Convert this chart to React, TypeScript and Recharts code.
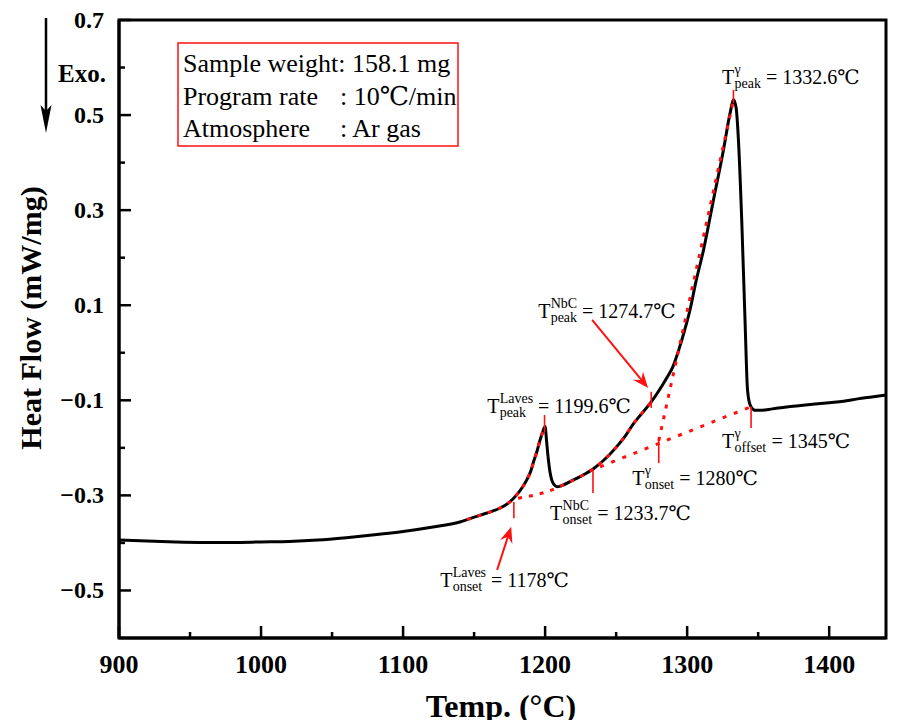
import React from 'react';
import { LineChart, Line, XAxis, YAxis, ReferenceLine, ReferenceDot, ReferenceArea } from 'recharts';

// ---- DSC curve ----
const temps = [900, 920, 940, 960, 980, 1000, 1020, 1040, 1060, 1080, 1100, 1120, 1140, 1147, 1155, 1162, 1168, 1175, 1180, 1184, 1187, 1190, 1192, 1194.5, 1196.5, 1198.5, 1200, 1201, 1202.3, 1203.5, 1204.7, 1206.5, 1208.5, 1212, 1217.6, 1225, 1234, 1242, 1250, 1256, 1262, 1268, 1274.6, 1282, 1286, 1290, 1294, 1298, 1302, 1306, 1311.5, 1318.5, 1325.6, 1330.3, 1332.6, 1334.5, 1336.1, 1338.5, 1340.8, 1342.5, 1344.4, 1347.9, 1352, 1360, 1370, 1380, 1390, 1400, 1410, 1420, 1430, 1440];
const heatFlow = [-0.394, -0.396, -0.398, -0.399, -0.399, -0.398, -0.397, -0.394, -0.389, -0.383, -0.376, -0.367, -0.356, -0.349, -0.341, -0.334, -0.327, -0.314, -0.299, -0.283, -0.268, -0.248, -0.228, -0.205, -0.183, -0.165, -0.155, -0.185, -0.225, -0.252, -0.268, -0.278, -0.282, -0.279, -0.271, -0.26, -0.244, -0.224, -0.199, -0.177, -0.15, -0.128, -0.104, -0.071, -0.051, -0.029, 0.005, 0.045, 0.09, 0.147, 0.216, 0.321, 0.427, 0.505, 0.532, 0.515, 0.448, 0.273, 0.063, -0.078, -0.11, -0.121, -0.121, -0.118, -0.114, -0.111, -0.108, -0.105, -0.102, -0.097, -0.093, -0.089];

// ---- red dotted construction lines ----
const lavesEdgeT = [1145, 1155, 1162, 1168, 1175, 1180, 1184, 1187, 1190, 1192, 1194.5, 1196.5, 1198.5];
const lavesEdgeV = [-0.351, -0.341, -0.334, -0.327, -0.314, -0.299, -0.283, -0.268, -0.248, -0.228, -0.205, -0.183, -0.165];
const nbcLineT = [1181, 1208.5, 1212, 1217.6, 1225, 1234, 1242, 1250, 1256, 1262, 1268, 1274.6];
const nbcLineV = [-0.306, -0.284, -0.279, -0.271, -0.26, -0.244, -0.224, -0.199, -0.177, -0.15, -0.128, -0.104];
const gammaBaseT = [1238.7, 1344.4];
const gammaBaseV = [-0.24, -0.114];
const gammaTangentT = [1280, 1332.6];
const gammaTangentV = [-0.185, 0.532];

// ---- characteristic temperature markers ----
const markerT = [1178, 1199.6, 1233.7, 1274.7, 1280, 1332.6, 1345];
const markerLow = [-0.348, -0.167, -0.295, -0.116, -0.232, 0.525, -0.158];
const markerHigh = [-0.314, -0.131, -0.247, -0.082, -0.179, 0.553, -0.113];

// ---- labels ----
const labelSup = ['γ', 'NbC', 'Laves', 'NbC', 'γ', 'γ', 'Laves'];
const labelSub = ['peak', 'peak', 'peak', 'onset', 'onset', 'offset', 'onset'];
const labelValue = ['1332.6℃', '1274.7℃', '1199.6℃', '1233.7℃', '1280℃', '1345℃', '1178℃'];
const labelAtT = [1324.6, 1195.1, 1159.2, 1203.5, 1261.3, 1324.6, 1126.1];
const labelAtV = [0.566, 0.073, -0.127, -0.352, -0.278, -0.2, -0.493];

// ---- arrows (from label to point) ----
const arrowFromT = [1233.1, 1166.2];
const arrowFromV = [0.069, -0.457];
const arrowToT = [1272.5, 1176.1];
const arrowToV = [-0.074, -0.366];

// ---- axes ----
const xTicks = [900, 950, 1000, 1050, 1100, 1150, 1200, 1250, 1300, 1350, 1400];
const yTicks = [-0.5, -0.4, -0.3, -0.2, -0.1, 0, 0.1, 0.2, 0.3, 0.4, 0.5, 0.6, 0.7];

const legendLines = [
  ['Sample weight: 158.1 mg', ''],
  ['Program rate', ': 10℃/min'],
  ['Atmosphere', ': Ar gas'],
];

const zip = (t: number[], v: number[]) => t.map((T, i) => ({ T, v: v[i] }));
const curve = zip(temps, heatFlow);

const RED = '#ff1010';
const FONT = "'Liberation Serif', 'Times New Roman', 'DejaVu Serif', serif";

const CW: Record<string, number> = { p: 500, e: 444, a: 444, k: 500, o: 500, n: 500, s: 389, t: 278, f: 333, L: 611, v: 500, N: 722, b: 500, C: 667, 'γ': 440 };
const textW = (s: string, size: number) => s.split('').reduce((w, c) => w + (CW[c] ?? 500), 0) * size / 1000;

const XTick = (props: any) => {
  const { x, y, payload } = props;
  const major = payload.value % 100 === 0;
  return (
    <g>
      <line x1={x} y1={y} x2={x} y2={y - (major ? 12 : 6)} stroke="#000" strokeWidth={2.5} />
      {major && (
        <text x={x} y={y + 35} textAnchor="middle" fontFamily={FONT} fontWeight="bold" fontSize={26} fill="#000">
          {payload.value}
        </text>
      )}
    </g>
  );
};

const YTick = (props: any) => {
  const { x, y, payload } = props;
  const n = Math.round(payload.value * 10);
  const major = Math.abs(n) % 2 === 1;
  const label = (n < 0 ? '\u2212' : '') + Math.abs(payload.value).toFixed(1);
  return (
    <g>
      <line x1={x} y1={y} x2={x + (major ? 12 : 6)} y2={y} stroke="#000" strokeWidth={2.5} />
      {major && (
        <text x={x - 15} y={y + 8} textAnchor="end" fontFamily={FONT} fontWeight="bold" fontSize={24} fill="#000">
          {label}
        </text>
      )}
    </g>
  );
};

const ArrowShape = (props: any) => {
  const { x1, y1, x2, y2 } = props;
  const ang = Math.atan2(y2 - y1, x2 - x1);
  const c = Math.cos(ang), s = Math.sin(ang);
  const L = 16, W = 6.5;
  const bx = x2 - L * c, by = y2 - L * s;
  const nx = x2 - L * 0.65 * c, ny = y2 - L * 0.65 * s;
  const pts = `${x2},${y2} ${bx - W * s},${by + W * c} ${nx},${ny} ${bx + W * s},${by - W * c}`;
  return (
    <g>
      <line x1={x1} y1={y1} x2={nx} y2={ny} stroke={RED} strokeWidth={2} />
      <polygon points={pts} fill={RED} />
    </g>
  );
};

const makeLabel = (i: number) => (props: any) => {
  const { cx, cy } = props;
  const tW = 12.5;
  const sw = Math.max(textW(labelSup[i], 14), textW(labelSub[i], 14));
  return (
    <g fontFamily={FONT} fill="#000">
      <text x={cx} y={cy} fontSize={20}>T</text>
      <text x={cx + tW} y={cy - 10} fontSize={14}>{labelSup[i]}</text>
      <text x={cx + tW} y={cy + 4} fontSize={14}>{labelSub[i]}</text>
      <text x={cx + tW + sw} y={cy} fontSize={20} style={{ whiteSpace: 'pre' }}>{' = ' + labelValue[i]}</text>
    </g>
  );
};

export default function App() {
  const W = 885;
  const H = 712;
  return (
    <div style={{ position: 'relative', width: W, height: H, background: '#fff' }}>
      <LineChart width={W} height={H} margin={{ top: 12, right: 7, bottom: 0, left: 0 }}>
        <XAxis
          type="number"
          dataKey="T"
          domain={[900, 1440]}
          ticks={xTicks}
          interval={0}
          allowDataOverflow
          height={82}
          tickSize={0}
          tickMargin={0}
          tickLine={false}
          axisLine={{ stroke: '#000', strokeWidth: 3 }}
          tick={<XTick />}
        />
        <YAxis
          type="number"
          dataKey="v"
          domain={[-0.6, 0.7]}
          ticks={yTicks}
          interval={0}
          allowDataOverflow
          width={111}
          tickSize={0}
          tickMargin={0}
          tickLine={false}
          axisLine={{ stroke: '#000', strokeWidth: 3 }}
          tick={<YTick />}
        />
        <ReferenceArea x1={900} x2={1440} y1={-0.6} y2={0.7} fill="none" fillOpacity={0} stroke="#000" strokeWidth={3} ifOverflow="visible" />
        <Line data={curve} dataKey="v" type="monotone" stroke="#000" strokeWidth={3} dot={false} isAnimationActive={false} />
        <Line data={zip(lavesEdgeT, lavesEdgeV)} dataKey="v" type="monotone" stroke={RED} strokeWidth={3} strokeDasharray="4 7" dot={false} isAnimationActive={false} />
        <Line data={zip(nbcLineT, nbcLineV)} dataKey="v" type="monotone" stroke={RED} strokeWidth={3} strokeDasharray="4 7" dot={false} isAnimationActive={false} />
        <Line data={zip(gammaBaseT, gammaBaseV)} dataKey="v" type="linear" stroke={RED} strokeWidth={3} strokeDasharray="4 8" dot={false} isAnimationActive={false} />
        <Line data={zip(gammaTangentT, gammaTangentV)} dataKey="v" type="linear" stroke={RED} strokeWidth={3} strokeDasharray="4 7" dot={false} isAnimationActive={false} />
        {markerT.map((t, i) => (
          <ReferenceLine key={'m' + i} segment={[{ x: t, y: markerLow[i] }, { x: t, y: markerHigh[i] }]} stroke={RED} strokeWidth={1.6} ifOverflow="visible" />
        ))}
        {arrowFromT.map((t, i) => (
          <ReferenceLine key={'a' + i} segment={[{ x: t, y: arrowFromV[i] }, { x: arrowToT[i], y: arrowToV[i] }]} shape={ArrowShape} ifOverflow="visible" />
        ))}
        {labelAtT.map((t, i) => (
          <ReferenceDot key={'l' + i} x={t} y={labelAtV[i]} r={0} ifOverflow="visible" shape={makeLabel(i)} />
        ))}
      </LineChart>
      <svg width={W} height={H} style={{ position: 'absolute', left: 0, top: 0, overflow: 'visible', pointerEvents: 'none' }}>
        <text
          transform="translate(33, 310) rotate(-90)"
          textAnchor="middle"
          fontFamily={FONT}
          fontWeight="bold"
          fontSize={30}
          fill="#000"
        >
          Heat Flow (mW/mg)
        </text>
        <text x={493} y={709} textAnchor="middle" fontFamily={FONT} fontWeight="bold" fontSize={32} fill="#000">
          Temp. (°C)
        </text>
        <text x={50} y={74} fontFamily={FONT} fontWeight="bold" fontSize={25} fill="#000">Exo.</text>
        <line x1={38} y1={10} x2={38} y2={104} stroke="#000" strokeWidth={2.5} />
        <polygon points="38,125 32.5,97 38,103 43.5,97" fill="#000" />
        <rect x={170} y={35} width={280} height={103} fill="#fff" stroke={RED} strokeWidth={1.5} />
        {legendLines.map((ln, i) => (
          <g key={i} fontFamily={FONT} fontSize={26} fill="#000">
            <text x={175} y={64 + i * 32.5} style={{ whiteSpace: 'pre' }}>{ln[0]}</text>
            {ln[1] && <text x={332} y={64 + i * 32.5} style={{ whiteSpace: 'pre' }}>{ln[1]}</text>}
          </g>
        ))}
      </svg>
    </div>
  );
}
